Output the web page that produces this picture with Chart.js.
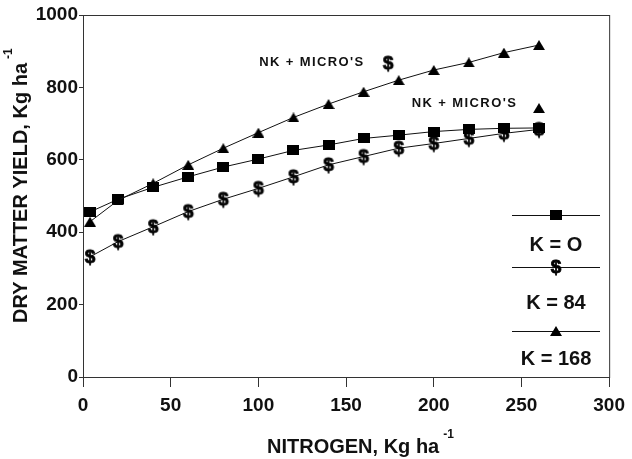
<!DOCTYPE html>
<html>
<head>
<meta charset="utf-8">
<script src="https://cdn.jsdelivr.net/npm/chart.js@4"></script>
<style>
html, body { margin: 0; padding: 0; background: #fff; }
#wrap { width: 632px; height: 459px; }
</style>
</head>
<body>
<div id="wrap"><canvas id="grafico"></canvas></div>
<script>
// dati (N in kg/ha, resa in kg/ha)
const nitrogen = [4, 20, 40, 60, 80, 100, 120, 140, 160, 180, 200, 220, 240, 260];
const k0 = [456, 491, 524, 553, 580, 602, 626, 641, 659, 668, 678, 684, 687, 688];
const k84 = [332, 374, 415, 457, 491, 521, 553, 586, 609, 632, 645, 659, 673, 684];
const k168 = [429, 488, 535, 586, 632, 675, 717, 754, 788, 820, 848, 869, 896, 917];

// punti NK + MICRO'S
const microK84 = [{x: 174, y: 867}];
const microK168 = [{x: 260, y: 743}];
const microLabels = ["NK + MICRO'S", "NK + MICRO'S"];
const microLabelPos = [{x: 130.5, y: 870}, {x: 217.5, y: 757}];

const xTicks = [0, 50, 100, 150, 200, 250, 300];
const yTicks = [0, 200, 400, 600, 800, 1000];
const legendLabels = ["K = O", "K = 84", "K = 168"];

const FONT = "'Liberation Sans', Arial, sans-serif";

// marker disegnati a mano
function markerQuadrato(){
	const c = document.createElement("canvas");
	c.width = 12; c.height = 10;
	const g = c.getContext("2d");
	g.fillStyle = "#000";
	g.fillRect(0, 0, 12, 10);
	return c;
}
function markerTriangolo(){
	const c = document.createElement("canvas");
	c.width = 12; c.height = 10;
	const g = c.getContext("2d");
	g.fillStyle = "#000";
	g.beginPath();
	g.moveTo(6, 0); g.lineTo(12, 10); g.lineTo(0, 10);
	g.closePath();
	g.fill();
	return c;
}
function markerDollaro(){
	const c = document.createElement("canvas");
	c.width = 16; c.height = 22;
	const g = c.getContext("2d");
	g.fillStyle = "#000";
	g.strokeStyle = "#000";
	g.lineWidth = 0.8;
	g.font = "bold 19px " + FONT;
	g.textAlign = "center";
	g.textBaseline = "middle";
	g.fillText("$", 8, 12);
	g.strokeText("$", 8, 12);
	return c;
}
const imgSq = markerQuadrato();
const imgTri = markerTriangolo();
const imgDol = markerDollaro();

function serie(vals){
	return nitrogen.map((n, i) => ({x: n, y: vals[i]}));
}

const decorazioni = {
	id: "decorazioni",
	afterDraw(chart){
		const ctx = chart.ctx;
		const a = chart.chartArea;
		const sx = chart.scales.x, sy = chart.scales.y;
		ctx.save();
		// cornice
		ctx.strokeStyle = "#333";
		ctx.lineWidth = 1;
		ctx.strokeRect(a.left + 0.5, a.top + 0.5, a.right - a.left, a.bottom - a.top);

		// etichette NK + MICRO'S
		ctx.fillStyle = "#111";
		ctx.font = "bold 13px " + FONT;
		ctx.letterSpacing = "1.4px";
		ctx.textAlign = "center";
		ctx.textBaseline = "middle";
		microLabels.forEach((t, i) => {
			ctx.fillText(t, sx.getPixelForValue(microLabelPos[i].x), sy.getPixelForValue(microLabelPos[i].y));
		});
		ctx.letterSpacing = "0px";

		// legenda
		const lx0 = 512, lx1 = 600, lc = 556;
		const righe = [215, 267, 331];
		const imgs = [imgSq, imgDol, imgTri];
		const testi = [245, 303, 359];
		ctx.strokeStyle = "#111";
		righe.forEach((y, i) => {
			ctx.beginPath();
			ctx.moveTo(lx0, y + 0.5); ctx.lineTo(lx1, y + 0.5);
			ctx.stroke();
			const im = imgs[i];
			ctx.drawImage(im, lc - im.width / 2, y - im.height / 2);
		});
		ctx.font = "bold 20px " + FONT;
		legendLabels.forEach((t, i) => ctx.fillText(t, lc, testi[i]));

		// titolo asse x con apice
		ctx.textAlign = "left";
		ctx.textBaseline = "alphabetic";
		ctx.font = "bold 20px " + FONT;
		const tx = "NITROGEN, Kg ha";
		const wx = ctx.measureText(tx).width;
		const x0 = 267;
		ctx.fillText(tx, x0, 453);
		ctx.font = "bold 12px " + FONT;
		ctx.fillText("-1", x0 + wx + 4, 438);

		// titolo asse y
		ctx.translate(27, 323);
		ctx.rotate(-Math.PI / 2);
		ctx.font = "bold 20px " + FONT;
		const ty = "DRY MATTER YIELD, Kg ha";
		const wy = ctx.measureText(ty).width;
		ctx.fillText(ty, 0, 0);
		ctx.font = "bold 12px " + FONT;
		ctx.fillText("-1", wy + 4, -15);
		ctx.restore();
	}
};

const lineaBase = {
	showLine: true,
	borderColor: "#111",
	borderWidth: 1,
	backgroundColor: "#111",
	pointRadius: 6,
	pointHoverRadius: 6,
	tension: 0
};

new Chart(document.getElementById("grafico"), {
	type: "scatter",
	data: {
		datasets: [
			Object.assign({}, lineaBase, {label: "K = 168", data: serie(k168), pointStyle: imgTri}),
			Object.assign({}, lineaBase, {label: "K = O", data: serie(k0), pointStyle: imgSq}),
			Object.assign({}, lineaBase, {label: "K = 84", data: serie(k84), pointStyle: imgDol}),
			{label: "NK+micro K168", data: microK168, showLine: false, pointStyle: imgTri, pointRadius: 6},
			{label: "NK+micro K84", data: microK84, showLine: false, pointStyle: imgDol, pointRadius: 6}
		]
	},
	options: {
		responsive: true,
		maintainAspectRatio: false,
		animation: false,
		layout: {padding: {left: 0, top: 15, right: 20, bottom: 0}},
		plugins: {
			legend: {display: false},
			tooltip: {enabled: false}
		},
		scales: {
			x: {
				type: "linear",
				min: 0, max: 300,
				afterBuildTicks: s => { s.ticks = xTicks.map(v => ({value: v})); },
				afterFit: s => { s.height = 82; },
				grid: {drawOnChartArea: false, drawTicks: true, tickLength: 10, color: "#333"},
				border: {display: true, color: "#333", width: 1},
				ticks: {color: "#111", font: {family: FONT, size: 19, weight: "bold"}, padding: 7, maxRotation: 0,
					callback: v => String(v)}
			},
			y: {
				type: "linear",
				min: 0, max: 1000,
				afterBuildTicks: s => { s.ticks = yTicks.map(v => ({value: v})); },
				afterFit: s => { s.width = 83; },
				grid: {drawOnChartArea: false, drawTicks: true, tickLength: 4, color: "#333"},
				border: {display: true, color: "#333", width: 1},
				ticks: {color: "#111", font: {family: FONT, size: 19, weight: "bold"}, padding: 1,
					callback: v => String(v)}
			}
		}
	},
	plugins: [decorazioni]
});
</script>
</body>
</html>
